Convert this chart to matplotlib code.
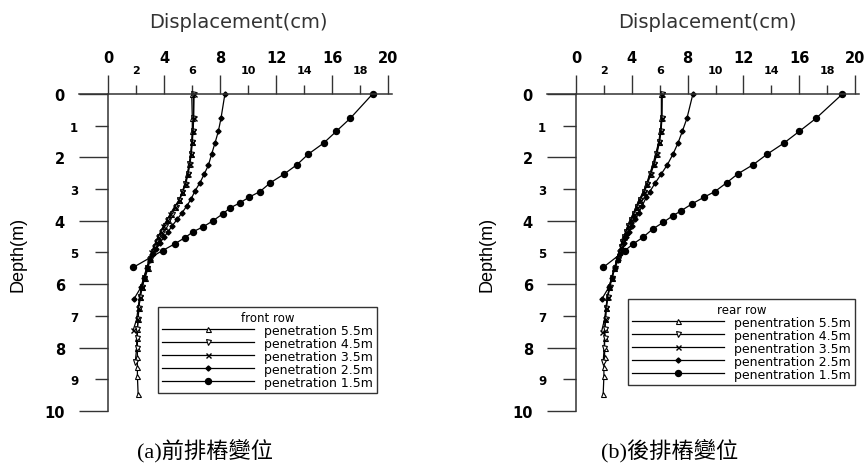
import matplotlib
matplotlib.use("Agg")
import matplotlib.pyplot as plt

plt.rcParams['font.family'] = ['DejaVu Sans']

# ---- front row (a) ----
a_d55 = [0, 0.77, 1.16, 1.52, 1.89, 2.21, 2.52, 2.84, 3.1, 3.36, 3.56, 3.78, 3.98, 4.17, 4.35, 4.52,
         4.68, 4.84, 5.0, 5.2, 5.5, 5.8, 6.1, 6.4, 6.75, 7.1, 7.4, 7.7, 8.0, 8.3, 8.6, 8.9, 9.45]
a_x55 = [5.98, 6.02, 6.02, 5.98, 5.9, 5.8, 5.66, 5.5, 5.3, 5.1, 4.8, 4.5, 4.25, 4.0, 3.8, 3.6,
         3.45, 3.3, 3.15, 3.0, 2.85, 2.65, 2.4, 2.3, 2.2, 2.15, 2.1, 2.1, 2.1, 2.1, 2.1, 2.1, 2.15]
a_d45 = [0, 0.77, 1.16, 1.52, 1.89, 2.21, 2.52, 2.84, 3.1, 3.36, 3.56, 3.78, 3.98, 4.17, 4.35, 4.52,
         4.68, 4.84, 5.0, 5.2, 5.5, 5.8, 6.1, 6.4, 6.75, 7.1, 7.4, 7.7, 8.0, 8.45]
a_x45 = [6.1, 6.1, 6.05, 6.0, 5.92, 5.82, 5.7, 5.5, 5.3, 5.08, 4.85, 4.55, 4.3, 4.05, 3.85, 3.65,
         3.5, 3.35, 3.2, 3.0, 2.8, 2.6, 2.45, 2.3, 2.2, 2.15, 2.1, 2.05, 2.05, 1.95]
a_d35 = [0, 0.77, 1.16, 1.52, 1.89, 2.21, 2.52, 2.84, 3.1, 3.36, 3.56, 3.78, 3.98, 4.17, 4.35, 4.52,
         4.68, 4.84, 5.0, 5.2, 5.5, 5.8, 6.1, 6.4, 6.75, 7.1, 7.45]
a_x35 = [6.15, 6.12, 6.08, 6.02, 5.95, 5.85, 5.72, 5.55, 5.32, 5.05, 4.75, 4.45, 4.2, 3.95, 3.75, 3.55,
         3.4, 3.25, 3.1, 2.95, 2.75, 2.55, 2.4, 2.25, 2.15, 2.05, 1.8]
a_d25 = [0, 0.77, 1.18, 1.55, 1.9, 2.25, 2.52, 2.8, 3.07, 3.3, 3.52, 3.74, 3.95, 4.15, 4.34, 4.52,
         4.7, 4.88, 5.05, 5.25, 5.5, 5.8, 6.1, 6.47]
a_x25 = [8.35, 8.07, 7.88, 7.64, 7.4, 7.17, 6.88, 6.57, 6.2, 5.95, 5.65, 5.3, 4.95, 4.6, 4.3, 4.0,
         3.7, 3.45, 3.2, 3.0, 2.8, 2.55, 2.35, 1.85]
a_d15 = [0, 0.77, 1.18, 1.55, 1.9, 2.23, 2.52, 2.8, 3.08, 3.25, 3.44, 3.6, 3.78, 4.0, 4.19, 4.34,
         4.53, 4.72, 4.94, 5.47]
a_x15 = [18.9, 17.3, 16.3, 15.4, 14.3, 13.5, 12.6, 11.6, 10.85, 10.1, 9.4, 8.7, 8.2, 7.5, 6.8, 6.1,
         5.5, 4.8, 3.9, 1.8]

# ---- rear row (b) ----
b_d55 = [0, 0.77, 1.16, 1.52, 1.89, 2.21, 2.52, 2.84, 3.1, 3.36, 3.56, 3.78, 3.98, 4.17, 4.35, 4.52,
         4.68, 4.84, 5.0, 5.2, 5.5, 5.8, 6.1, 6.4, 6.75, 7.1, 7.4, 7.7, 8.0, 8.3, 8.6, 8.9, 9.45]
b_x55 = [6.12, 6.12, 6.05, 5.93, 5.71, 5.52, 5.29, 5.05, 4.81, 4.5, 4.3, 4.1, 3.9, 3.7, 3.55, 3.4,
         3.3, 3.2, 3.1, 2.95, 2.75, 2.55, 2.4, 2.25, 2.15, 2.1, 2.05, 2.05, 2.05, 2.05, 2.0, 2.0, 1.95]
b_d45 = [0, 0.77, 1.16, 1.52, 1.89, 2.21, 2.52, 2.84, 3.1, 3.36, 3.56, 3.78, 3.98, 4.17, 4.35, 4.52,
         4.68, 4.84, 5.0, 5.2, 5.5, 5.8, 6.1, 6.4, 6.75, 7.1, 7.4, 7.7, 8.0, 8.45]
b_x45 = [6.15, 6.14, 6.08, 5.96, 5.76, 5.56, 5.33, 5.1, 4.86, 4.56, 4.35, 4.15, 3.95, 3.75, 3.6, 3.45,
         3.32, 3.22, 3.12, 2.98, 2.78, 2.58, 2.42, 2.28, 2.18, 2.12, 2.08, 2.05, 2.02, 1.95]
b_d35 = [0, 0.77, 1.16, 1.52, 1.89, 2.21, 2.52, 2.84, 3.1, 3.36, 3.56, 3.78, 3.98, 4.17, 4.35, 4.52,
         4.68, 4.84, 5.0, 5.2, 5.5, 5.8, 6.1, 6.4, 6.75, 7.1, 7.5]
b_x35 = [6.18, 6.16, 6.1, 5.98, 5.8, 5.6, 5.36, 5.12, 4.88, 4.58, 4.36, 4.14, 3.94, 3.74, 3.58, 3.43,
         3.3, 3.2, 3.08, 2.95, 2.75, 2.55, 2.4, 2.26, 2.15, 2.05, 1.83]
b_d25 = [0, 0.77, 1.18, 1.55, 1.9, 2.23, 2.52, 2.8, 3.08, 3.25, 3.52, 3.74, 3.95, 4.15, 4.34, 4.52,
         4.7, 4.88, 5.05, 5.25, 5.5, 5.8, 6.1, 6.47]
b_x25 = [8.38, 7.95, 7.62, 7.31, 6.95, 6.55, 6.12, 5.69, 5.29, 5.05, 4.75, 4.5, 4.25, 4.0, 3.8, 3.6,
         3.45, 3.3, 3.15, 3.0, 2.8, 2.55, 2.35, 1.85]
b_d15 = [0, 0.77, 1.18, 1.55, 1.9, 2.23, 2.52, 2.8, 3.08, 3.25, 3.47, 3.68, 3.84, 4.05, 4.26, 4.52,
         4.73, 4.94, 5.47]
b_x15 = [19.1, 17.2, 16.0, 14.9, 13.7, 12.7, 11.6, 10.8, 9.95, 9.2, 8.3, 7.55, 6.95, 6.25, 5.5, 4.8,
         4.1, 3.5, 1.95]

a_labels = ['penetration 5.5m', 'penetration 4.5m', 'penetration 3.5m',
            'penetration 2.5m', 'penetration 1.5m']
b_labels = ['penentration 5.5m', 'penentration 4.5m', 'penentration 3.5m',
            'penentration 2.5m', 'penentration 1.5m']
x_major = [0, 4, 8, 12, 16, 20]
x_minor = [2, 6, 10, 14, 18]
y_major = [0, 2, 4, 6, 8, 10]
y_minor = [1, 3, 5, 7, 9]

# marker styles for the five curves
styles = [dict(marker='^', ms=3.6, mfc='white', mew=0.8),
          dict(marker='v', ms=3.6, mfc='white', mew=0.8),
          dict(marker='x', ms=3.6, mew=1.0),
          dict(marker='D', ms=2.6),
          dict(marker='o', ms=4.3)]

fig = plt.figure(figsize=(8.64, 4.64), dpi=100)


def panel(left, width, curves, labels, title, legend_pos, tcx, ylx, cap, capx):
    ax = fig.add_axes([left, 0.1121, width, 0.6832])
    for (d, x), lab, st in zip(curves, labels, styles):
        ax.plot(x, d, color='black', lw=0.9, label=lab, clip_on=False, **st)
    ax.set_xlim(-2.1, 20.3)
    ax.set_ylim(10, 0)
    ax.spines['right'].set_visible(False)
    ax.spines['bottom'].set_visible(False)
    ax.spines['left'].set_position(('data', 0))
    ax.spines['left'].set_bounds(0, 10)
    for s in ('left', 'top'):
        ax.spines[s].set_linewidth(1.1)
        ax.spines[s].set_color('#333333')
    ax.xaxis.tick_top()
    ax.set_xticks(x_major)
    ax.set_xticks(x_minor, minor=True)
    ax.set_xticklabels([str(v) for v in x_major], fontweight='bold')
    ax.set_xticklabels([str(v) for v in x_minor], minor=True, fontweight='bold')
    ax.set_yticks(y_major)
    ax.set_yticks(y_minor, minor=True)
    ax.set_yticklabels([str(v) for v in y_major], fontweight='bold')
    ax.set_yticklabels([str(v) for v in y_minor], minor=True, fontweight='bold')
    ax.tick_params(axis='x', which='major', direction='out', length=14, width=1,
                   pad=7, labelsize=10.5, color='#333333')
    ax.tick_params(axis='x', which='minor', direction='out', length=6.5, width=1,
                   pad=7, labelsize=8, color='#333333', top=True, bottom=False,
                   labeltop=True, labelbottom=False)
    ax.tick_params(axis='y', which='major', direction='out', length=21, width=1,
                   pad=10, labelsize=10.5, color='#333333')
    ax.tick_params(axis='y', which='minor', direction='out', length=9.5, width=1,
                   pad=12, labelsize=8.5, color='#333333')
    leg = ax.legend(title=title, loc='upper left', bbox_to_anchor=legend_pos,
                    bbox_transform=fig.transFigure, fontsize=9, title_fontsize=8.5,
                    handlelength=7.4, handletextpad=0.8, labelspacing=0.0,
                    borderpad=0.3, borderaxespad=0, fancybox=False,
                    edgecolor='#333333', framealpha=1)
    leg.get_frame().set_linewidth(1.0)
    fig.text(tcx, 1 - 23 / 464, 'Displacement(cm)', ha='center', va='center',
             fontsize=14, color='#333333')
    fig.text(ylx, 1 - 254 / 464, 'Depth(m)', rotation=90, ha='center', va='center',
             fontsize=13, family=['Liberation Sans Narrow', 'Liberation Sans'])
    fig.text(capx, 1 - 451 / 464, cap, ha='center', va='center', fontsize=16,
             family=['Liberation Serif', 'Noto Sans CJK TC'])
    return ax


panel(78.6 / 864, 313.6 / 864,
      [(a_d55, a_x55), (a_d45, a_x45), (a_d35, a_x35), (a_d25, a_x25), (a_d15, a_x15)],
      a_labels, 'front row', (158 / 864, 1 - 308 / 464),
      238 / 864, 18 / 864, '(a)前排樁變位', 205 / 864)
panel(546.7 / 864, 312.5 / 864,
      [(b_d55, b_x55), (b_d45, b_x45), (b_d35, b_x35), (b_d25, b_x25), (b_d15, b_x15)],
      b_labels, 'rear row', (628 / 864, 1 - 300 / 464),
      707 / 864, 487 / 864, '(b)後排樁變位', 670 / 864)

fig.savefig('out.png', dpi=100)
